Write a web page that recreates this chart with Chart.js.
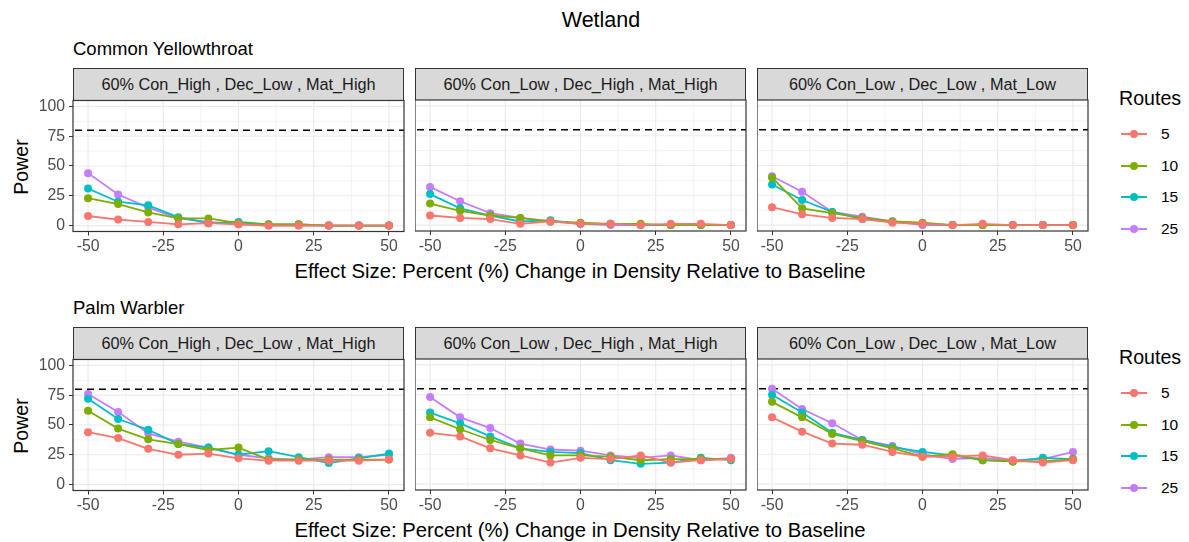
<!DOCTYPE html>
<html>
<head>
<meta charset="utf-8">
<script src="https://cdn.jsdelivr.net/npm/chart.js@4.4.1/dist/chart.umd.min.js"></script>
<style>
  body { margin: 0; background: #fff; font-family: "Liberation Sans", Arial, sans-serif; }
  #wrap { position: relative; width: 1189px; height: 542px; overflow: hidden; }
  .abs { position: absolute; white-space: nowrap; color: #000; }
  .strip { position: absolute; background: #D9D9D9; border: 1px solid #333; box-sizing: border-box;
           font-size: 16.3px; color: #1A1A1A; text-align: center; line-height: 31px; white-space: nowrap; }
  .ylab { position: absolute; font-size: 19.5px; white-space: nowrap; transform: translate(-50%, -50%) rotate(-90deg); }
  .xlab { position: absolute; font-size: 20.3px; white-space: nowrap; transform: translate(-50%, -50%); }
  .leg-line { position: absolute; height: 2px; width: 26px; }
  .leg-dot { position: absolute; width: 8px; height: 8px; border-radius: 50%; }
  .leg-txt { position: absolute; font-size: 15.5px; transform: translateY(-50%); }
  canvas { position: absolute; }
</style>
</head>
<body>
<div id="wrap"></div>
<script>
// ---- data ----
const effectSize = [-50, -40, -30, -20, -10, 0, 10, 20, 30, 40, 50];
const routes = ["5", "10", "15", "25"];
const routeColors = ["#F8766D", "#7CAE00", "#00BFC4", "#C77CFF"];
const xTicks = [-50, -25, 0, 25, 50];
const yTicks = [0, 25, 50, 75, 100];
const species = ["Common Yellowthroat", "Palm Warbler"];
const scenarios = ["60% Con_High , Dec_Low , Mat_High", "60% Con_Low , Dec_High , Mat_High", "60% Con_Low , Dec_Low , Mat_Low"];

// Common Yellowthroat, one array per number of routes (5, 10, 15, 25)
const cyConHighDecLowMatHigh = [
  [8, 5, 3, 1, 2, 1, 0, 0, 0, 0, 0],
  [23, 18, 11, 6, 6, 2, 1, 1, 0, 0, 0],
  [31, 20, 17, 7, 2, 3, 1, 1, 0, 0, 0],
  [44, 26, 15, 6, 3, 1, 0, 0, 0, 0, 0]
];
const cyConLowDecHighMatHigh = [
  [8, 6, 5, 1, 3, 1, 1, 0, 1, 1, 0],
  [18, 12, 8, 6, 3, 2, 1, 1, 0, 0, 0],
  [26, 14, 8, 3, 4, 1, 1, 0, 0, 0, 0],
  [32, 20, 10, 6, 3, 1, 0, 0, 0, 0, 0]
];
const cyConLowDecLowMatLow = [
  [15, 9, 6, 5, 2, 1, 0, 1, 0, 0, 0],
  [40, 14, 10, 6, 3, 2, 0, 0, 0, 0, 0],
  [34, 21, 11, 5, 3, 1, 0, 0, 0, 0, 0],
  [41, 28, 11, 7, 3, 0, 0, 0, 0, 0, 0]
];
// Palm Warbler
const pwConHighDecLowMatHigh = [
  [44, 39, 30, 25, 26, 22, 20, 20, 20, 20, 21],
  [62, 47, 38, 34, 29, 31, 21, 21, 21, 21, 21],
  [72, 55, 46, 34, 31, 25, 28, 23, 18, 22, 26],
  [76, 61, 43, 36, 31, 25, 22, 21, 23, 23, 25]
];
const pwConLowDecHighMatHigh = [
  [43, 40, 30, 24, 18, 22, 21, 24, 18, 20, 21],
  [56, 46, 37, 30, 24, 24, 23, 20, 21, 21, 21],
  [60, 51, 40, 30, 27, 26, 20, 17, 18, 22, 20],
  [73, 56, 47, 34, 29, 28, 24, 22, 24, 20, 22]
];
const pwConLowDecLowMatLow = [
  [56, 44, 34, 33, 27, 23, 23, 24, 20, 18, 20],
  [69, 56, 42, 36, 30, 23, 25, 20, 19, 19, 21],
  [75, 60, 43, 37, 31, 27, 24, 20, 19, 22, 21],
  [80, 63, 51, 37, 32, 25, 21, 22, 20, 21, 27]
];
const panelData = [
  [cyConHighDecLowMatHigh, cyConLowDecHighMatHigh, cyConLowDecLowMatLow],
  [pwConHighDecLowMatHigh, pwConLowDecHighMatHigh, pwConLowDecLowMatLow]
];

// ---- layout ----
const wrap = document.getElementById("wrap");
const plotLefts = [73, 415, 757];
const plotW = 331;
const plotH = 131;
const rowTops = [100, 359];
const yAxisW = 45;
const padTop = 10, padRight = 10, xAxisH = 26;

function addDiv(cls, text, css) {
  const d = document.createElement("div");
  d.className = cls;
  if (text !== null) d.textContent = text;
  Object.assign(d.style, css);
  wrap.appendChild(d);
  return d;
}

addDiv("abs", "Wetland", { left: "601px", top: "19.5px", fontSize: "21.5px", transform: "translate(-50%,-50%)" });

const panelPlugin = {
  id: "panelDeco",
  beforeDatasetsDraw(chart) {
    const { ctx, chartArea: a, scales: { x, y } } = chart;
    ctx.save();
    ctx.fillStyle = "#fff";
    ctx.fillRect(a.left, a.top, a.right - a.left, a.bottom - a.top);
    ctx.strokeStyle = "#EBEBEB";
    ctx.lineWidth = 0.6;
    [-37.5, -12.5, 12.5, 37.5].forEach(v => {
      const px = x.getPixelForValue(v);
      ctx.beginPath(); ctx.moveTo(px, a.top); ctx.lineTo(px, a.bottom); ctx.stroke();
    });
    [12.5, 37.5, 62.5, 87.5].forEach(v => {
      const py = y.getPixelForValue(v);
      ctx.beginPath(); ctx.moveTo(a.left, py); ctx.lineTo(a.right, py); ctx.stroke();
    });
    ctx.lineWidth = 1.2;
    xTicks.forEach(v => {
      const px = x.getPixelForValue(v);
      ctx.beginPath(); ctx.moveTo(px, a.top); ctx.lineTo(px, a.bottom); ctx.stroke();
    });
    yTicks.forEach(v => {
      const py = y.getPixelForValue(v);
      ctx.beginPath(); ctx.moveTo(a.left, py); ctx.lineTo(a.right, py); ctx.stroke();
    });
    // 80% power threshold
    const p80 = y.getPixelForValue(80);
    ctx.strokeStyle = "#000";
    ctx.lineWidth = 1.4;
    ctx.setLineDash([7, 5]);
    ctx.beginPath(); ctx.moveTo(a.left + 2, p80); ctx.lineTo(a.right, p80); ctx.stroke();
    ctx.restore();
  },
  afterDraw(chart) {
    const { ctx, chartArea: a } = chart;
    ctx.save();
    ctx.strokeStyle = "#333";
    ctx.lineWidth = 1.2;
    ctx.strokeRect(a.left, a.top, a.right - a.left, a.bottom - a.top);
    ctx.restore();
  }
};

species.forEach((sp, r) => {
  const top = rowTops[r];
  addDiv("abs", sp, { left: "73px", top: (top - 51) + "px", fontSize: "18.5px", transform: "translateY(-50%)" });
  addDiv("ylab", "Power", { left: "21px", top: (top + 67) + "px" });
  addDiv("xlab", "Effect Size: Percent (%) Change in Density Relative to Baseline", { left: "580px", top: (top + 171) + "px" });

  scenarios.forEach((sc, c) => {
    const left = plotLefts[c];
    addDiv("strip", sc, { left: left + "px", top: (top - 32) + "px", width: plotW + "px", height: "33px" });

    const yw = c === 0 ? yAxisW : 0;
    const cv = document.createElement("canvas");
    const cw = yw + plotW + padRight;
    const ch = padTop + plotH + xAxisH;
    cv.width = cw; cv.height = ch;
    Object.assign(cv.style, { left: (left - yw) + "px", top: (top - padTop) + "px", width: cw + "px", height: ch + "px" });
    wrap.appendChild(cv);

    const series = panelData[r][c];
    const chart = new Chart(cv, {
      type: "line",
      data: {
        datasets: routes.map((rt, k) => ({
          label: rt,
          data: effectSize.map((e, i) => ({ x: e, y: series[k][i] })),
          borderColor: routeColors[k],
          backgroundColor: routeColors[k],
          borderWidth: 1.8,
          pointRadius: 4,
          pointBorderWidth: 0,
          tension: 0
        }))
      },
      options: {
        responsive: false,
        maintainAspectRatio: false,
        animation: false,
        devicePixelRatio: 1,
        layout: { autoPadding: false, padding: { top: padTop, right: padRight, left: 0, bottom: 0 } },
        plugins: { legend: { display: false }, tooltip: { enabled: false } },
        scales: {
          x: {
            type: "linear", min: -55, max: 55,
            afterBuildTicks: s => { s.ticks = xTicks.map(v => ({ value: v })); },
            afterFit: s => { s.height = xAxisH; },
            grid: { drawOnChartArea: false, drawTicks: true, tickLength: 4, tickColor: "#333", tickWidth: 1 },
            border: { display: false },
            ticks: { color: "#4D4D4D", font: { size: 15.8, family: "Liberation Sans" }, padding: 2, maxRotation: 0 }
          },
          y: {
            type: "linear", min: -5, max: 105,
            afterBuildTicks: s => { s.ticks = yTicks.map(v => ({ value: v })); },
            afterFit: s => { s.width = yw; },
            grid: { drawOnChartArea: false, drawTicks: c === 0, tickLength: 4, tickColor: "#333", tickWidth: 1 },
            border: { display: false },
            ticks: { display: c === 0, color: "#4D4D4D", font: { size: 15.8, family: "Liberation Sans" }, padding: 4 }
          }
        }
      },
      plugins: [panelPlugin]
    });

    // make the plotting area land exactly on the panel box
    const a = chart.chartArea;
    const dw = plotW - (a.right - a.left);
    const dh = plotH - (a.bottom - a.top);
    if (Math.abs(dw) > 0.5 || Math.abs(dh) > 0.5) chart.resize(cw + dw, ch + dh);
    const b = chart.chartArea;
    cv.style.left = (left - b.left) + "px";
    cv.style.top = (top - b.top) + "px";
  });

  // legend
  addDiv("abs", "Routes", { left: "1119px", top: (top - 2) + "px", fontSize: "19.6px", transform: "translateY(-50%)" });
  const legY = [34, 65.5, 97, 128.5];
  routes.forEach((rt, k) => {
    const cy = top + legY[k];
    addDiv("leg-line", null, { left: "1121px", top: (cy - 1) + "px", background: routeColors[k] });
    addDiv("leg-dot", null, { left: "1130px", top: (cy - 4) + "px", background: routeColors[k] });
    addDiv("leg-txt", rt, { left: "1161px", top: cy + "px" });
  });
});
</script>
</body>
</html>
